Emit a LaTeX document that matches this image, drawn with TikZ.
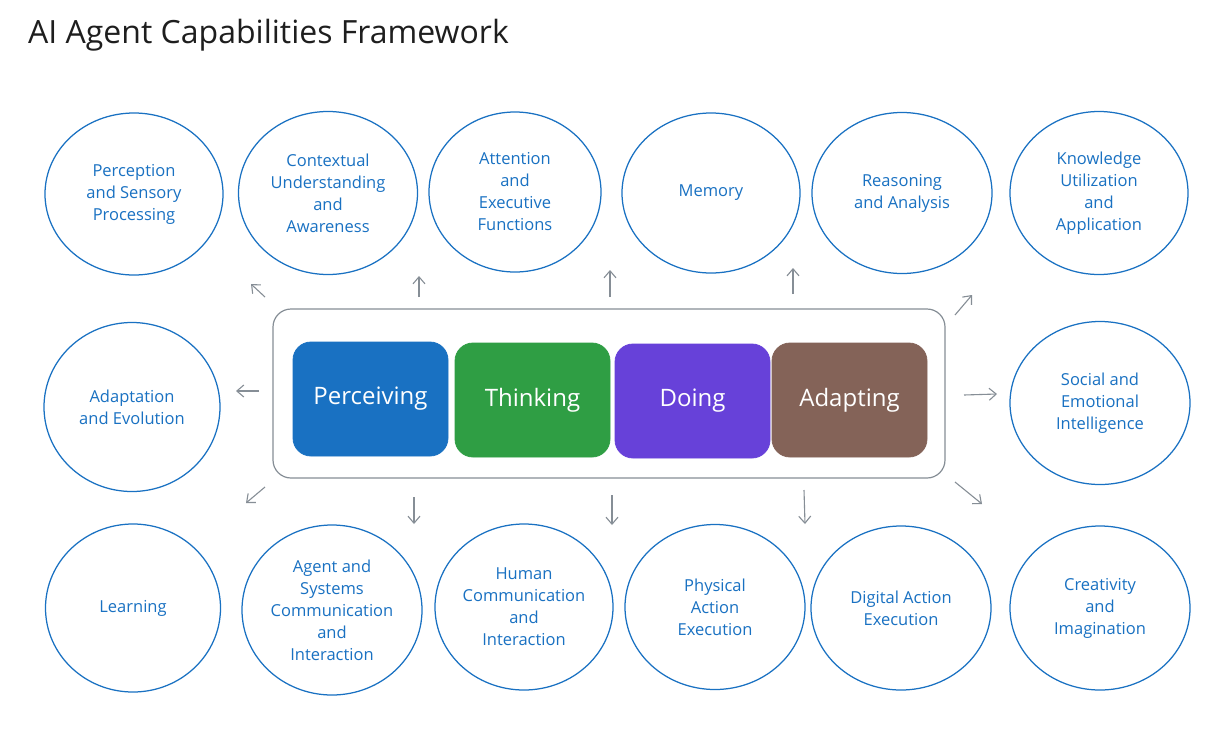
\documentclass[tikz,border=0pt]{standalone}
\usepackage{fontspec}
\setmainfont{Open Sans}
\usetikzlibrary{shapes.geometric,arrows.meta}
\definecolor{cblue}{HTML}{1971C2}
\definecolor{cgreen}{HTML}{2F9E44}
\definecolor{cviolet}{HTML}{6741D9}
\definecolor{cbrown}{HTML}{846358}
\definecolor{cgray}{HTML}{868E96}
\definecolor{ctitle}{HTML}{1E1E1E}
\tikzset{
  capnode/.style={ellipse, draw=cblue, line width=1.25pt, text=cblue, align=center,
    font=\fontsize{16.5}{22}\selectfont, inner sep=0pt},
  phase/.style={rounded corners=18pt, fill=#1, draw=#1, line width=0.8pt, text=white,
    minimum width=155pt, minimum height=114pt, font=\fontsize{24}{26}\selectfont},
  flow/.style={draw=cgray, line width=1.1pt, -{Straight Barb[length=7pt,width=12pt]}},
}
\begin{document}
\begin{tikzpicture}[x=1pt,y=-1pt]
\useasboundingbox (0,0) rectangle (1221,732);
\fill[white] (0,0) rectangle (1221,732);
\node[anchor=base west, text=ctitle, font=\fontsize{32}{34}\selectfont, inner sep=0pt] (title) at (28,43) {AI Agent Capabilities Framework};

% top row
\node[capnode, minimum width=178pt, minimum height=162pt] (perc) at (134,194) {Perception\\and Sensory\\Processing};
\node[capnode, minimum width=179pt, minimum height=163pt] (ctx) at (328,193) {Contextual\\Understanding\\and\\Awareness};
\node[capnode, minimum width=172pt, minimum height=160pt] (att) at (515,192) {Attention\\and\\Executive\\Functions};
\node[capnode, minimum width=178pt, minimum height=160pt] (mem) at (711,193) {Memory};
\node[capnode, minimum width=180pt, minimum height=161pt] (rea) at (902,193) {Reasoning\\and Analysis};
\node[capnode, minimum width=178pt, minimum height=163pt] (kno) at (1099,193) {Knowledge\\Utilization\\and\\Application};
% middle row
\node[capnode, minimum width=176pt, minimum height=169pt] (ada) at (132,407) {Adaptation\\and Evolution};
\node[capnode, minimum width=180pt, minimum height=163pt] (soc) at (1100,403) {Social and\\Emotional\\Intelligence};
% bottom row
\node[capnode, minimum width=175pt, minimum height=168pt] (lea) at (133,608) {Learning};
\node[capnode, minimum width=180pt, minimum height=170pt] (ags) at (332,610) {Agent and\\Systems\\Communication\\and\\Interaction};
\node[capnode, minimum width=178pt, minimum height=166pt] (hum) at (524,607) {Human\\Communication\\and\\Interaction};
\node[capnode, minimum width=180pt, minimum height=165pt] (phy) at (715,607) {Physical\\Action\\Execution};
\node[capnode, minimum width=180pt, minimum height=164pt] (dig) at (901,608) {Digital Action\\Execution};
\node[capnode, minimum width=180pt, minimum height=164pt] (cre) at (1100,608) {Creativity\\and\\Imagination};

% central container
\node[draw=cgray, line width=1.2pt, rounded corners=18pt, minimum width=672pt, minimum height=169pt] (core) at (609,393.5) {};
\node[phase=cblue] (pcv) at (370.5,399) {Perceiving};
\node[phase=cgreen] (thk) at (532.5,400) {Thinking};
\node[phase=cviolet] (doi) at (692.5,401) {Doing};
\node[phase=cbrown] (adp) at (849.5,400) {Adapting};

% arrows
\coordinate (a1s) at (265,297); \coordinate (a1e) at (251,284);
\coordinate (a2s) at (419,297); \coordinate (a2e) at (419,276);
\coordinate (a3s) at (610,297); \coordinate (a3e) at (610,270);
\coordinate (a4s) at (793,294); \coordinate (a4e) at (793,268);
\coordinate (a5s) at (955,315); \coordinate (a5e) at (972,295);
\coordinate (a6s) at (259,391); \coordinate (a6e) at (236,391);
\coordinate (a7s) at (964,395); \coordinate (a7e) at (997,394);
\coordinate (a8s) at (265,487); \coordinate (a8e) at (246,503);
\coordinate (a9s) at (414,497); \coordinate (a9e) at (414,524);
\coordinate (a10s) at (612,495); \coordinate (a10e) at (612,525);
\coordinate (a11s) at (804,490); \coordinate (a11e) at (805,524);
\coordinate (a12s) at (955,482); \coordinate (a12e) at (982,504);
\foreach \i in {1,...,12} { \draw[flow] (a\i s) -- (a\i e); }
\end{tikzpicture}
\end{document}
